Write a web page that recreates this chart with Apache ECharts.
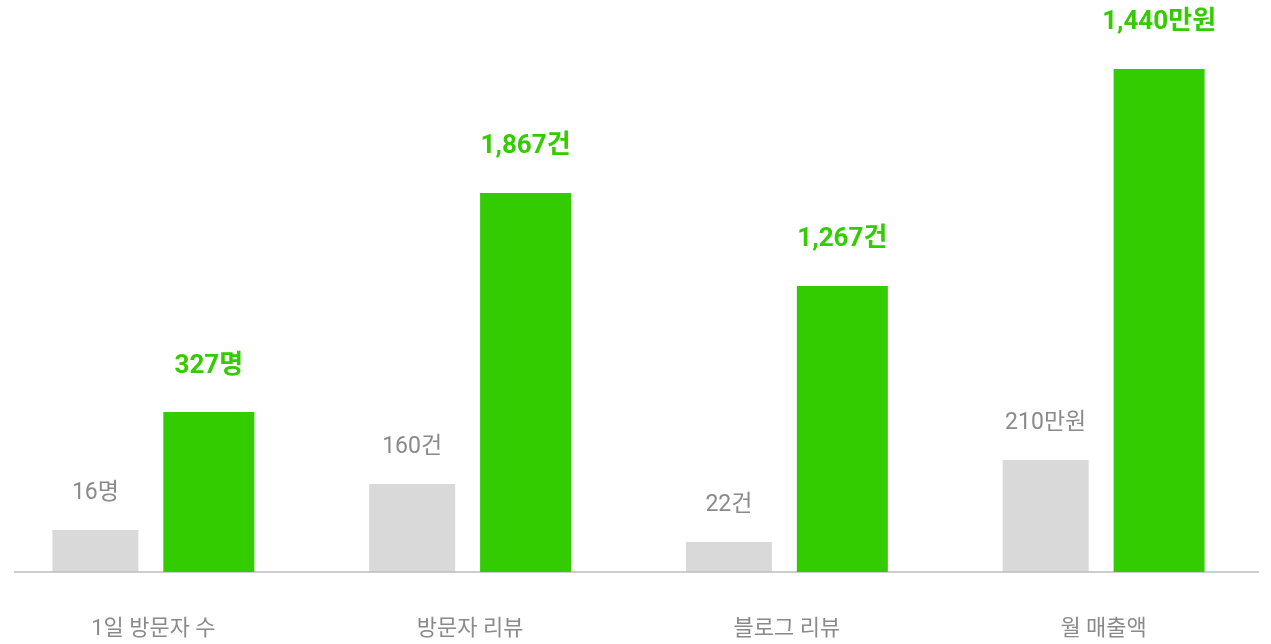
<!DOCTYPE html>
<html>
<head>
<meta charset="utf-8">
<script src="https://cdn.jsdelivr.net/npm/echarts@6/dist/echarts.min.js"></script>
<style>
html,body{margin:0;padding:0;background:#fff;}
#chart{width:1271px;height:644px;}
</style>
</head>
<body>
<div id="chart"></div>
<script>
// Categories
var categories = ['1일 방문자 수', '방문자 리뷰', '블로그 리뷰', '월 매출액'];
// Displayed values and units
var beforeValues = [16, 160, 22, 210];
var afterValues = [327, 1867, 1267, 1440];
var units = ['명', '건', '건', '만원'];
// Bar heights as drawn in the picture (visual scale, not proportional to the values)
var beforeHeights = [42, 88, 30, 112];
var afterHeights = [160, 379, 286, 503];

var FONT = 'Roboto, "Noto Sans CJK KR", sans-serif';
function fmt(v, u) { return v.toLocaleString('en-US') + u; }

var chart = echarts.init(document.getElementById('chart'), null, { renderer: 'canvas' });
chart.setOption({
  animation: false,
  backgroundColor: '#ffffff',
  grid: { left: -5, right: 9, top: 0, bottom: 72, containLabel: false, outerBoundsMode: 'none' },
  xAxis: {
    type: 'category',
    data: categories,
    axisLine: { show: false },
    axisTick: { show: false },
    axisLabel: { color: '#8a8a8a', fontSize: 22, fontFamily: FONT, margin: 46 }
  },
  yAxis: { type: 'value', min: 0, max: 572, show: false, splitLine: { show: false } },
  graphic: [{
    type: 'line', z: 3,
    shape: { x1: 14, y1: 572, x2: 1259, y2: 572 },
    style: { stroke: '#bdbdbd', lineWidth: 1.5 }
  }],
  series: [{
    type: 'bar', z: 2,
    data: beforeHeights,
    barWidth: 86,
    barGap: '29%',
    itemStyle: { color: '#d9d9d9' },
    label: {
      show: true, position: 'top', distance: 25,
      color: '#8a8a8a', fontSize: 23, fontFamily: FONT,
      formatter: function (p) { return fmt(beforeValues[p.dataIndex], units[p.dataIndex]); }
    }
  }, {
    type: 'bar', z: 5,
    data: afterHeights,
    barWidth: 91,
    itemStyle: { color: '#33cc00' },
    label: {
      show: true, position: 'top', distance: 33,
      color: '#33cc00', fontSize: 26, fontWeight: 'bold', fontFamily: FONT,
      formatter: function (p) { return fmt(afterValues[p.dataIndex], units[p.dataIndex]); }
    }
  }]
});
</script>
</body>
</html>
